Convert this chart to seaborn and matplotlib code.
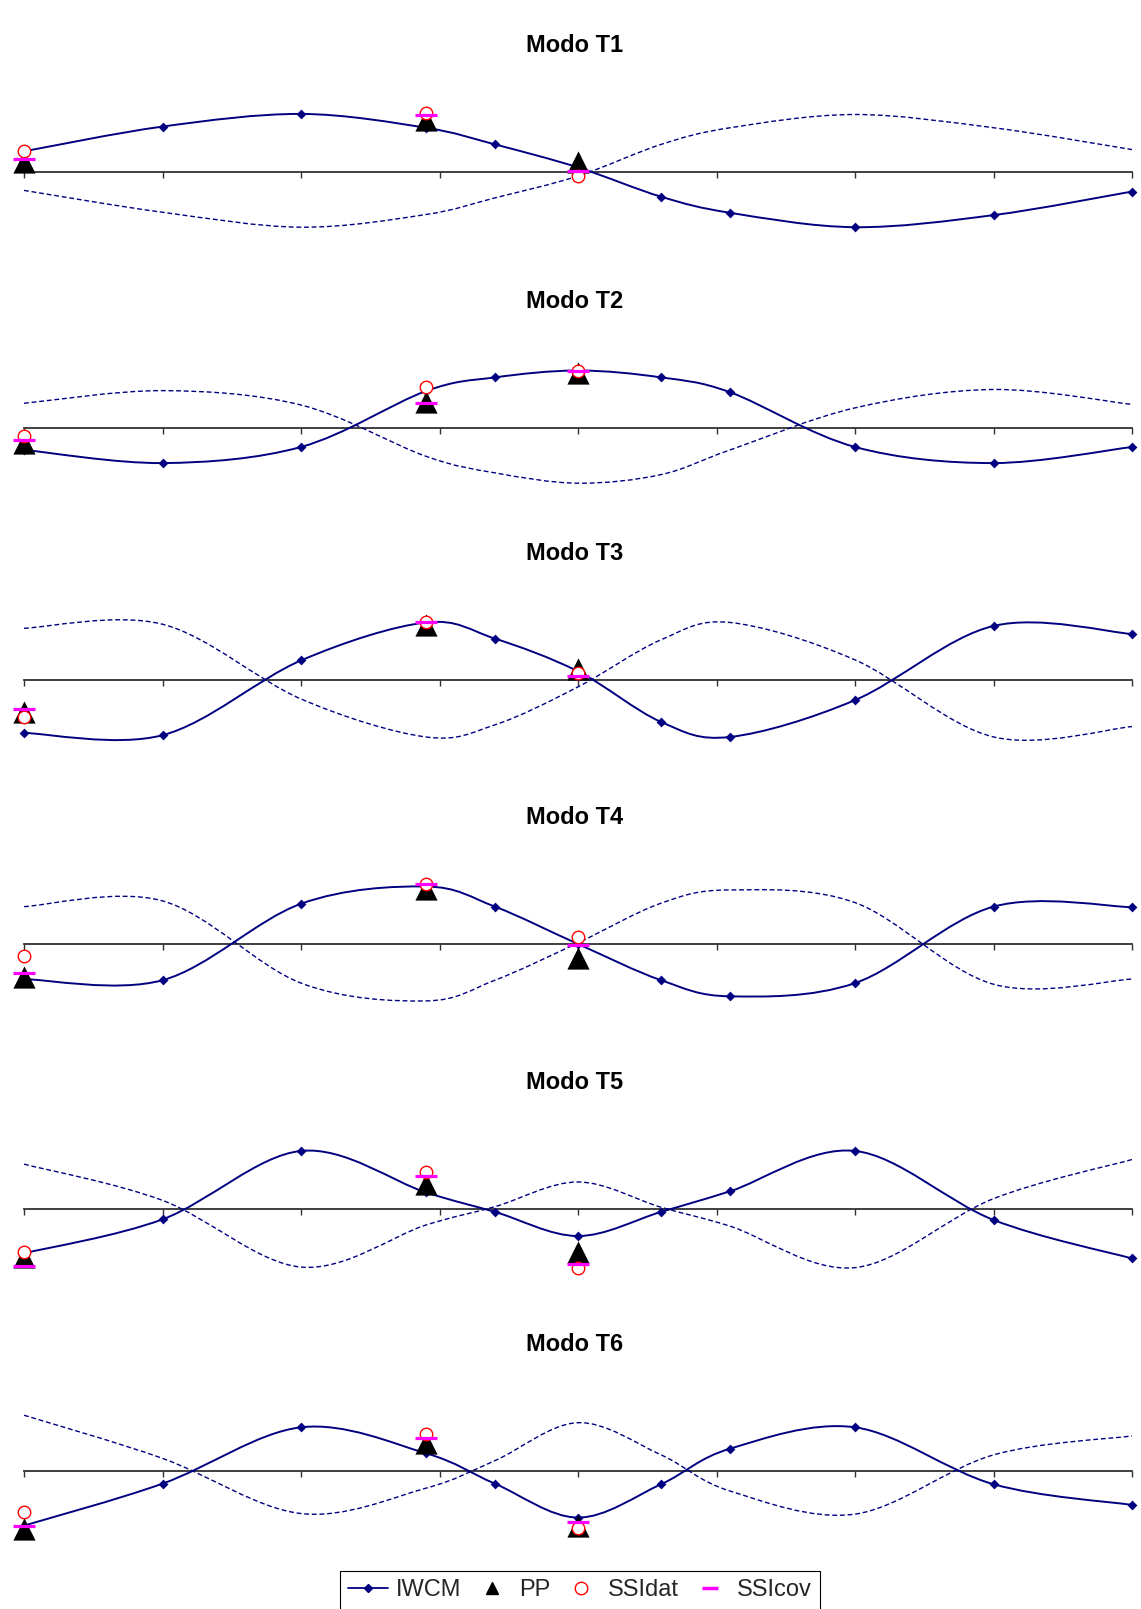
import numpy as np
import seaborn as sns
import matplotlib.pyplot as plt
from matplotlib.path import Path
from matplotlib.patches import PathPatch
from matplotlib.lines import Line2D

# posiciones de los puntos de medida (eje longitudinal)
x_pos = [0, 1, 2, 2.9, 3.4, 4, 4.6, 5.1, 6, 7, 8]
x_sens = [0, 2.9, 4]

titulos = ['Modo T1', 'Modo T2', 'Modo T3', 'Modo T4', 'Modo T5', 'Modo T6']

# IWCM (linea continua) y lado opuesto (linea a trazos)
iwcm_t1 = [0.36, 0.79, 1.01, 0.77, 0.48, 0.08, -0.43, -0.71, -0.96, -0.75, -0.34]
lado_t1 = [-0.32, -0.70, -0.96, -0.74, -0.45, -0.07, 0.48, 0.77, 1.00, 0.77, 0.39]
iwcm_t2 = [-0.38, -0.61, -0.33, 0.64, 0.88, 1.00, 0.88, 0.62, -0.33, -0.61, -0.33]
lado_t2 = [0.43, 0.65, 0.40, -0.49, -0.78, -0.96, -0.81, -0.38, 0.35, 0.67, 0.41]
iwcm_t3 = [-0.92, -0.96, 0.34, 1.00, 0.72, 0.15, -0.73, -0.99, -0.35, 0.94, 0.80]
lado_t3 = [0.90, 0.97, -0.33, -0.99, -0.78, -0.12, 0.70, 1.00, 0.35, -0.99, -0.81]
iwcm_t4 = [-0.61, -0.63, 0.70, 1.00, 0.65, 0.00, -0.63, -0.91, -0.68, 0.65, 0.64]
lado_t4 = [0.65, 0.75, -0.68, -0.99, -0.63, 0.02, 0.71, 0.94, 0.72, -0.70, -0.61]
iwcm_t5 = [-0.77, -0.18, 1.01, 0.29, -0.05, -0.47, -0.05, 0.31, 1.01, -0.19, -0.86]
lado_t5 = [0.78, 0.15, -1.01, -0.28, 0.04, 0.47, 0.03, -0.30, -1.02, 0.18, 0.86]
iwcm_t6 = [-0.95, -0.22, 0.76, 0.31, -0.22, -0.81, -0.23, 0.39, 0.76, -0.23, -0.59]
lado_t6 = [0.97, 0.22, -0.74, -0.30, 0.18, 0.84, 0.28, -0.35, -0.75, 0.28, 0.61]

# valores identificados en los tres puntos de medida
pp_t1 = [0.17, 0.90, 0.17]
ssidat_t1 = [0.37, 1.02, -0.07]
ssicov_t1 = [0.23, 0.99, 0.02]
pp_t2 = [-0.26, 0.45, 0.95]
ssidat_t2 = [-0.14, 0.72, 1.00]
ssicov_t2 = [-0.21, 0.44, 1.00]
pp_t3 = [-0.56, 0.95, 0.19]
ssidat_t3 = [-0.65, 1.00, 0.12]
ssicov_t3 = [-0.51, 1.00, 0.07]
pp_t4 = [-0.57, 0.96, -0.24]
ssidat_t4 = [-0.21, 1.04, 0.12]
ssicov_t4 = [-0.51, 1.04, -0.02]
pp_t5 = [-0.83, 0.44, -0.74]
ssidat_t5 = [-0.74, 0.65, -1.02]
ssicov_t5 = [-0.99, 0.58, -0.95]
pp_t6 = [-1.00, 0.48, -0.95]
ssidat_t6 = [-0.71, 0.65, -0.99]
ssicov_t6 = [-0.95, 0.57, -0.89]

iwcm = [iwcm_t1, iwcm_t2, iwcm_t3, iwcm_t4, iwcm_t5, iwcm_t6]
lado = [lado_t1, lado_t2, lado_t3, lado_t4, lado_t5, lado_t6]
pp = [pp_t1, pp_t2, pp_t3, pp_t4, pp_t5, pp_t6]
ssidat = [ssidat_t1, ssidat_t2, ssidat_t3, ssidat_t4, ssidat_t5, ssidat_t6]
ssicov = [ssicov_t1, ssicov_t2, ssicov_t3, ssicov_t4, ssicov_t5, ssicov_t6]

sns.set_theme(style='white')
plt.rcParams['font.family'] = ['Liberation Sans', 'DejaVu Sans']

navy = '#000080'
W, H = 1141, 1609
eje_y = [172, 428, 680, 944, 1209, 1471]   # pixel del eje horizontal de cada panel
half = 86.25                               # 1.5 unidades de 57.5 px


def curva_suave(xs, ys):
    # linea suavizada tipo Excel (bezier por los puntos)
    pts = np.column_stack([xs, ys]).astype(float)
    n = len(pts)
    verts = [pts[0]]
    codes = [Path.MOVETO]
    for i in range(n - 1):
        p0 = pts[max(i - 1, 0)]
        p1 = pts[i]
        p2 = pts[i + 1]
        p3 = pts[min(i + 2, n - 1)]
        verts += [p1 + (p2 - p0) / 6, p2 - (p3 - p1) / 6, p2]
        codes += [Path.CURVE4] * 3
    return Path(verts, codes)


fig = plt.figure(figsize=(W / 100, H / 100), dpi=100)

for k in range(6):
    c = eje_y[k]
    ax = fig.add_axes([24 / W, (H - c - half) / H, 1108 / W, 2 * half / H])
    ax.patch.set_alpha(0)

    # lado opuesto (trazos)
    ax.add_patch(PathPatch(curva_suave(x_pos, lado[k]), fill=False, edgecolor=navy,
                           lw=1.0, linestyle=(0, (3.5, 2)), zorder=3, clip_on=False))
    # IWCM
    ax.add_patch(PathPatch(curva_suave(x_pos, iwcm[k]), fill=False, edgecolor=navy,
                           lw=1.4, zorder=3, clip_on=False))
    sns.scatterplot(x=x_pos, y=iwcm[k], marker='D', s=25, color=navy, linewidth=0,
                    ax=ax, zorder=4, clip_on=False)
    # PP, SSIdat, SSIcov
    sns.scatterplot(x=x_sens, y=pp[k], marker='^', s=256, color='black', linewidth=0,
                    ax=ax, zorder=5, clip_on=False)
    sns.scatterplot(x=x_sens, y=ssidat[k], marker='o', s=81, color='white', edgecolor='red',
                    linewidth=1.0, ax=ax, zorder=6, clip_on=False)
    sns.scatterplot(x=x_sens, y=ssicov[k], marker='_', s=256, color='magenta',
                    linewidth=2.3, ax=ax, zorder=7, clip_on=False)

    ax.set_xlim(0, 8)
    ax.set_ylim(-1.5, 1.5)
    for s in ['top', 'right', 'left']:
        ax.spines[s].set_visible(False)
    ax.spines['bottom'].set_position(('data', 0))
    ax.spines['bottom'].set_color('#303030')
    ax.spines['bottom'].set_linewidth(1.3)
    ax.set_xticks(range(9))
    ax.set_xticklabels([])
    ax.set_yticks([])
    ax.tick_params(axis='x', bottom=True, direction='out', length=4.5, width=1,
                   color='#303030')
    ax.set_xlabel('')
    ax.set_ylabel('')
    ax.text(0.497, 0.5 + 120 / (2 * half), titulos[k], transform=ax.transAxes,
            ha='center', va='baseline', fontsize=17, fontweight='bold', color='black')

handles = [
    Line2D([], [], color=navy, lw=1.3, marker='D', ms=4.5, mfc=navy, mec=navy),
    Line2D([], [], ls='', marker='^', ms=9, color='black'),
    Line2D([], [], ls='', marker='o', ms=9, mfc='white', mec='red', mew=1),
    Line2D([], [], ls='', marker='_', ms=12, mew=2.5, color='magenta'),
]
leg = fig.legend(handles, ['IWCM', 'PP', 'SSIdat', 'SSIcov'], ncol=4,
                 loc='upper center', bbox_to_anchor=(580 / W, 1 - 1571 / H),
                 fontsize=17, frameon=True, fancybox=False, edgecolor='black',
                 framealpha=1, handlelength=1.7, handletextpad=0.3,
                 columnspacing=0.45, borderpad=0.35, borderaxespad=0)
leg.get_frame().set_linewidth(0.8)

fig.savefig('out.png', dpi=100, facecolor='white')
